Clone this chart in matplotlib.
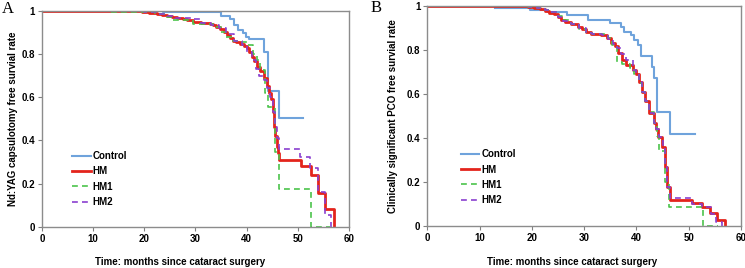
import matplotlib.pyplot as plt

# ---- Panel A: Nd:YAG capsulotomy free survival ----
a_ctrl_t = [0, 23.7, 34.9, 36.8, 37.5, 38.3, 39.2, 39.9, 40.4, 43.3, 44.1, 46.4, 51.1]
a_ctrl_s = [1.0, 0.992, 0.977, 0.96, 0.935, 0.91, 0.895, 0.88, 0.869, 0.81, 0.628, 0.504, 0.504]

a_hm_t = [0, 19.5, 21.0, 22.5, 23.5, 24.4, 25.5, 26.3, 27.5, 28.3, 29.6, 31.0, 32.8, 33.5,
          34.1, 34.8, 35.5, 36.1, 36.8, 37.4, 38.0, 38.7, 39.4, 40.0, 40.5, 41.0, 41.5, 42.0,
          42.6, 43.3, 43.9, 44.4, 44.7, 45.1, 45.3, 45.6, 45.9, 46.2, 46.4, 50.6, 52.5, 53.9,
          55.3, 57.0]
a_hm_s = [1.0, 0.995, 0.99, 0.985, 0.98, 0.975, 0.97, 0.966, 0.962, 0.957, 0.95, 0.945, 0.94, 0.932,
          0.926, 0.914, 0.9, 0.888, 0.875, 0.862, 0.855, 0.846, 0.836, 0.826, 0.81, 0.788, 0.765, 0.74,
          0.72, 0.69, 0.65, 0.62, 0.59, 0.53, 0.46, 0.42, 0.37, 0.34, 0.309, 0.283, 0.24, 0.157,
          0.08, 0.0]

a_hm1_t = [0, 13.3, 22.0, 24.5, 25.7, 29.6, 33.5, 35.0, 36.0, 37.4, 38.5, 40.0, 41.3, 42.0,
           42.6, 43.6, 44.2, 45.5, 46.3, 52.6, 56.3]
a_hm1_s = [1.0, 0.993, 0.985, 0.97, 0.955, 0.94, 0.925, 0.90, 0.88, 0.86, 0.855, 0.84, 0.80, 0.77,
           0.725, 0.62, 0.556, 0.347, 0.175, 0.0, 0.0]

a_hm2_t = [0, 20.0, 22.5, 24.5, 26.0, 29.5, 31.0, 33.0, 34.5, 36.0, 37.5, 39.0, 40.0, 41.0,
           41.8, 42.5, 43.3, 44.0, 44.6, 45.1, 45.5, 45.9, 46.3, 50.5, 52.4, 53.9, 55.3, 56.4]
a_hm2_s = [1.0, 0.995, 0.985, 0.975, 0.967, 0.96, 0.945, 0.935, 0.92, 0.89, 0.86, 0.84, 0.81, 0.77,
           0.73, 0.70, 0.68, 0.64, 0.60, 0.53, 0.46, 0.41, 0.36, 0.324, 0.27, 0.16, 0.055, 0.0]

# ---- Panel B: clinically significant PCO free survival ----
b_ctrl_t = [13.0, 19.7, 23.0, 26.7, 30.7, 35.0, 37.0, 37.6, 38.9, 39.6, 40.3, 40.8, 42.9,
            43.3, 43.9, 46.4, 51.3]
b_ctrl_s = [0.99, 0.98, 0.973, 0.958, 0.935, 0.92, 0.905, 0.882, 0.867, 0.845, 0.822, 0.77, 0.724,
            0.671, 0.52, 0.418, 0.418]

b_hm_t = [0, 19.2, 20.5, 21.5, 22.5, 23.3, 24.2, 25.0, 25.6, 26.3, 27.5, 28.8, 29.6, 30.3,
          31.4, 33.3, 34.3, 35.2, 35.9, 36.5, 37.2, 38.1, 39.4, 40.0, 40.4, 41.0, 41.7, 42.4,
          43.3, 43.8, 44.2, 44.9, 45.4, 45.9, 46.5, 50.6, 52.5, 54.1, 55.4, 56.9]
b_hm_s = [1.0, 0.995, 0.99, 0.985, 0.975, 0.968, 0.96, 0.95, 0.935, 0.925, 0.917, 0.905, 0.893, 0.88,
          0.872, 0.867, 0.852, 0.83, 0.815, 0.784, 0.754, 0.73, 0.71, 0.69, 0.656, 0.61, 0.566, 0.513,
          0.468, 0.44, 0.407, 0.362, 0.27, 0.18, 0.122, 0.106, 0.088, 0.061, 0.031, 0.0]

b_hm1_t = [0, 19.2, 21.0, 22.5, 23.5, 25.0, 25.8, 27.5, 29.0, 30.3, 31.5, 34.5, 35.3, 36.2,
           37.2, 38.8, 39.6, 40.4, 41.0, 41.7, 42.4, 43.3, 44.0, 44.4, 45.5, 46.3, 52.7, 55.7]
b_hm1_s = [1.0, 0.995, 0.99, 0.98, 0.97, 0.955, 0.935, 0.915, 0.895, 0.875, 0.87, 0.855, 0.82, 0.746,
           0.735, 0.717, 0.69, 0.65, 0.61, 0.566, 0.52, 0.47, 0.41, 0.34, 0.2, 0.09, 0.0, 0.0]

b_hm2_t = [0, 19.5, 21.0, 22.5, 23.5, 25.0, 26.0, 27.5, 29.0, 30.3, 31.5, 33.5, 34.5, 35.5,
           36.3, 37.0, 38.0, 39.3, 40.0, 40.5, 41.0, 41.7, 42.4, 43.3, 43.8, 44.3, 45.0, 45.5,
           45.9, 46.5, 50.6, 52.5, 54.2, 55.3, 56.4]
b_hm2_s = [1.0, 0.995, 0.99, 0.98, 0.97, 0.95, 0.93, 0.915, 0.9, 0.878, 0.872, 0.865, 0.85, 0.825,
           0.81, 0.78, 0.755, 0.71, 0.69, 0.656, 0.61, 0.566, 0.513, 0.468, 0.44, 0.407, 0.36, 0.27,
           0.18, 0.127, 0.1, 0.087, 0.055, 0.02, 0.0]

labels = ['Control', 'HM', 'HM1', 'HM2']
x_ticks = [0, 10, 20, 30, 40, 50, 60]
y_ticks = [0, 0.2, 0.4, 0.6, 0.8, 1]
y_ticklabels = ['0', '0.2', '0.4', '0.6', '0.8', '1']

plt.rcParams['font.family'] = ['Liberation Sans', 'DejaVu Sans']
plt.rcParams['font.weight'] = 'bold'

styles = [
    dict(color='#6fa3dc', lw=1.5, ls='-'),
    dict(color='#e3241c', lw=2.0, ls='-'),
    dict(color='#4cc44c', lw=1.2, ls=(0, (3.5, 2.5))),
    dict(color='#8a3fcf', lw=1.2, ls=(0, (3.5, 2.5))),
]

fig = plt.figure(figsize=(7.45, 2.68), dpi=100)
axA = fig.add_axes([0.0564, 0.154, 0.412, 0.806])
axB = fig.add_axes([0.5736, 0.155, 0.421, 0.824])

panels = [
    (axA, [(a_ctrl_t, a_ctrl_s), (a_hm_t, a_hm_s), (a_hm1_t, a_hm1_s), (a_hm2_t, a_hm2_s)],
     'Nd:YAG capsulotomy free survial rate', -0.078, 0.45, (0.098, 0.35)),
    (axB, [(b_ctrl_t, b_ctrl_s), (b_hm_t, b_hm_s), (b_hm1_t, b_hm1_s), (b_hm2_t, b_hm2_s)],
     'Clinically significant PCO free survial rate', -0.092, 0.46, (0.107, 0.35)),
]

for ax, series, ylab, ylab_x, xlab_x, leg_xy in panels:
    for (t, s), lab, st in zip(series, labels, styles):
        ax.plot(t, s, drawstyle='steps-post', label=lab, **st)
    ax.set_xlim(0, 60)
    ax.set_ylim(0, 1)
    ax.set_xticks(x_ticks)
    ax.set_yticks(y_ticks)
    ax.set_yticklabels(y_ticklabels)
    ax.tick_params(labelsize=7, length=3, width=0.8, color='#808080', pad=2)
    for sp in ax.spines.values():
        sp.set_color('#8c8c8c')
        sp.set_linewidth(1.0)
    ax.set_xlabel('Time: months since cataract surgery', fontsize=7, fontweight='bold')
    ax.xaxis.set_label_coords(xlab_x, -0.14)
    ax.set_ylabel(ylab, fontsize=7, fontweight='bold')
    ax.yaxis.set_label_coords(ylab_x, 0.5)
    ax.legend(loc='upper left', bbox_to_anchor=leg_xy, frameon=False, fontsize=7,
              handlelength=1.9, handletextpad=0.2, labelspacing=0.55,
              borderpad=0, borderaxespad=0)

fig.text(0.003, 0.995, 'A', family='Liberation Serif', fontweight='normal', fontsize=12, va='top')
fig.text(0.497, 1.0, 'B', family='Liberation Serif', fontweight='normal', fontsize=12, va='top')

fig.savefig('out.png', dpi=100)
